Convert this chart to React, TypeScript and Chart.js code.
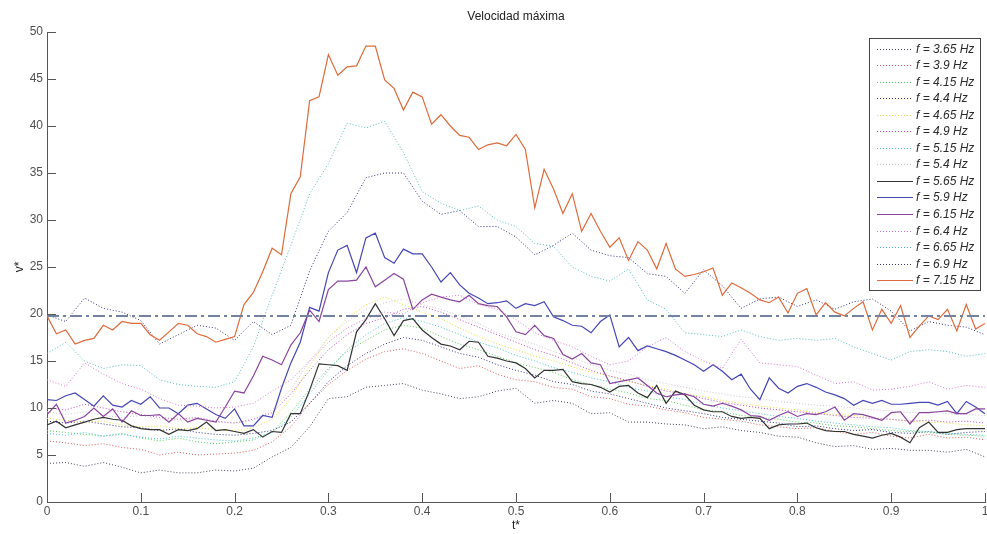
import React, { useEffect, useRef } from "react";
import { Chart, registerables } from "chart.js";

Chart.register(...registerables);

const TITLE = "Velocidad máxima";
const X_LABEL = "t*";
const Y_LABEL = "v*";
const X_TICKS = [0, 0.1, 0.2, 0.3, 0.4, 0.5, 0.6, 0.7, 0.8, 0.9, 1];
const Y_TICKS = [0, 5, 10, 15, 20, 25, 30, 35, 40, 45, 50];
const THRESHOLD = 19.8;

// time grids (fine grid for solid series, coarse grid for dotted series)
const T_FINE = Array.from({ length: 101 }, (_, k) => k / 100);
const T_COARSE = Array.from({ length: 51 }, (_, k) => k / 50);

const LABELS = [
  "f = 3.65 Hz", "f = 3.9 Hz", "f = 4.15 Hz", "f = 4.4 Hz", "f = 4.65 Hz",
  "f = 4.9 Hz", "f = 5.15 Hz", "f = 5.4 Hz", "f = 5.65 Hz", "f = 5.9 Hz",
  "f = 6.15 Hz", "f = 6.4 Hz", "f = 6.65 Hz", "f = 6.9 Hz", "f = 7.15 Hz",
];

// dotted series (t step 0.02)
const F365 = [4.1,4.2,3.8,4.2,3.7,3.1,3.4,3.1,3.1,3.4,3.3,3.6,4.8,5.8,8.0,11.0,11.2,12.2,12.4,12.6,11.9,11.5,11.0,11.2,11.8,12.1,10.5,10.8,10.5,9.4,9.5,8.5,8.5,8.3,8.2,7.8,8.0,7.6,7.4,7.0,6.9,6.3,5.9,6.0,5.6,5.7,5.5,5.5,5.3,5.6,4.8];
const F39 = [6.5,6.3,6.0,6.2,5.8,5.6,5.0,5.3,5.0,5.1,5.2,5.5,6.4,8.0,10.5,12.5,14.0,15.2,16.0,16.3,15.8,15.0,14.2,14.5,13.6,13.0,12.8,12.2,12.0,11.2,11.0,10.4,10.2,9.8,9.5,9.0,8.8,8.6,8.2,8.0,7.8,7.9,7.5,7.2,7.4,7.0,6.8,7.2,6.8,6.9,6.6];
const F415 = [7.6,7.4,7.2,7.0,7.3,6.8,6.5,6.8,6.4,6.2,6.4,6.6,7.5,9.5,12.0,14.2,16.0,17.2,18.3,18.8,18.5,17.6,16.8,16.2,15.5,14.8,14.3,13.8,13.0,12.5,12.0,11.6,11.0,10.8,10.3,9.8,9.6,9.2,9.0,8.8,8.5,8.4,8.1,8.0,7.8,7.6,7.5,7.4,7.2,7.1,7.0];
const F44 = [8.6,8.4,8.6,8.3,8.0,7.9,7.6,7.8,7.4,7.2,7.1,7.3,7.6,8.5,10.5,12.8,14.5,15.8,16.8,17.5,17.2,16.5,15.8,15.4,14.6,14.0,13.5,12.8,12.5,11.8,11.5,11.0,10.5,10.0,9.7,9.4,9.0,8.8,8.6,8.4,8.0,8.1,7.8,7.6,7.7,7.4,7.3,7.5,7.2,7.4,7.5];
const F465 = [8.9,8.7,8.5,8.6,8.2,8.0,8.1,7.8,7.9,7.7,7.6,7.9,8.8,11.0,14.5,17.5,19.5,21.0,21.8,21.0,20.2,19.5,18.5,17.6,16.8,16.2,15.5,15.0,14.4,13.8,13.4,12.8,12.4,12.0,11.5,11.2,10.8,10.5,10.2,10.0,9.8,9.5,9.3,9.2,9.0,8.8,8.6,8.5,8.4,8.2,8.1];
const F49 = [10.0,9.8,10.4,10.0,9.6,9.3,9.0,8.8,9.0,8.6,8.4,8.8,9.5,11.5,14.0,16.2,17.8,19.0,19.6,20.5,20.8,20.2,19.4,18.6,17.8,17.0,16.2,15.6,14.8,14.0,13.4,12.9,12.3,11.8,11.5,11.0,10.6,10.3,10.0,9.8,9.6,9.4,9.2,9.0,8.9,8.8,8.6,8.7,8.5,8.6,8.4];
const F515 = [7.3,7.1,7.4,7.0,7.2,6.9,6.7,7.0,6.8,6.6,6.5,6.8,7.4,9.0,11.5,14.0,16.2,17.8,19.0,19.6,19.2,18.6,17.8,17.0,16.4,15.6,15.0,14.3,13.8,13.2,12.8,12.2,11.8,11.2,10.9,10.4,10.0,9.7,9.4,9.1,8.9,8.6,8.4,8.2,8.0,7.9,7.6,7.5,7.3,7.2,7.1];
const F54 = [9.6,9.3,9.6,9.2,9.0,9.2,8.8,8.6,8.9,8.5,8.4,8.7,9.8,12.0,15.0,17.5,19.2,20.5,21.2,21.6,21.0,20.5,19.8,19.0,18.0,17.4,16.8,16.0,15.4,14.6,14.0,13.6,13.0,12.6,12.2,11.8,11.5,11.2,11.0,10.7,10.5,10.3,10.2,10.0,9.8,9.7,9.5,9.6,9.4,9.3,9.2];
const F64 = [13.0,12.3,14.8,13.6,12.6,12.0,11.0,10.3,10.2,10.0,10.1,10.5,11.8,13.0,15.0,17.0,18.5,19.5,20.2,20.0,21.2,21.8,22.0,21.0,20.5,19.4,18.0,17.2,16.5,15.5,14.6,15.0,16.5,17.5,16.0,15.0,14.2,17.3,14.8,14.6,14.4,13.5,12.6,12.8,11.9,12.0,12.3,12.8,12.0,12.4,12.2];
const F665 = [15.8,17.0,15.0,14.2,14.6,14.5,13.0,12.5,12.3,12.2,12.8,16.5,22.0,27.3,32.8,36.0,40.3,39.8,40.5,37.2,33.0,31.8,31.0,31.5,30.0,29.3,27.5,27.2,25.0,24.0,23.5,24.8,21.5,20.5,18.0,17.8,17.6,18.3,17.6,17.2,17.4,17.2,17.4,16.5,15.8,15.1,16.0,16.2,16.0,15.5,15.8];
const F69 = [19.9,19.2,21.7,20.6,20.2,19.3,16.8,17.8,18.8,18.5,17.2,19.2,17.8,18.8,24.6,28.8,30.8,34.5,35.0,35.0,32.0,30.6,31.0,29.3,29.3,28.2,26.3,27.3,28.6,26.8,26.2,26.0,24.3,24.0,22.2,24.7,23.0,20.6,21.6,21.8,20.8,21.5,20.5,21.3,21.6,20.3,18.2,19.2,18.8,18.6,17.8];

// solid series (t step 0.01)
const F565 = [8.2,8.6,7.9,8.2,8.5,8.8,9.0,8.8,8.7,8.1,7.8,7.7,7.7,7.2,7.7,7.6,7.8,8.5,7.6,7.7,7.5,7.3,7.7,6.9,7.5,7.4,9.4,9.4,11.9,14.7,14.6,14.5,14.0,18.1,19.4,21.1,19.5,17.7,19.3,19.5,18.3,17.5,16.8,16.6,16.2,17.1,17.0,15.5,15.3,15.0,14.8,14.2,13.2,14.0,14.0,14.1,12.8,12.6,12.5,12.2,11.7,12.3,12.4,11.6,11.1,12.4,10.5,11.8,11.4,10.3,9.8,9.6,9.6,9.1,8.9,9.0,8.9,7.8,8.2,8.3,8.3,8.4,7.9,7.6,7.5,7.5,7.2,7.0,6.8,7.1,7.3,6.9,6.3,7.9,8.5,7.4,7.4,7.7,7.8,7.8,7.8];
const F59 = [10.9,10.8,11.3,11.6,10.9,10.2,11.3,10.3,10.1,10.8,10.4,11.2,10.0,10.0,9.4,10.3,10.5,9.9,9.3,8.9,9.9,8.1,8.1,9.2,9.0,12.1,14.8,17.0,20.7,20.3,24.4,26.8,27.3,24.4,28.1,28.6,26.0,25.4,26.9,26.4,26.4,25.0,23.4,24.4,23.1,22.2,21.7,21.1,21.2,21.4,20.6,21.1,20.9,21.3,19.7,19.3,18.8,18.7,18.0,19.2,19.9,16.5,17.5,16.1,16.6,16.3,16.0,15.6,15.1,14.6,13.9,14.6,13.9,13.0,13.6,12.0,10.9,13.2,12.1,11.6,12.3,12.6,12.2,11.7,11.4,11.0,10.3,10.8,10.5,10.8,10.4,10.4,10.5,10.6,10.6,10.3,10.7,9.4,10.7,10.1,9.4];
const F615 = [9.3,10.4,8.4,8.7,9.1,10.0,9.1,9.9,8.5,9.7,9.2,9.2,9.3,8.5,9.4,8.5,8.9,8.7,8.5,10.1,11.8,11.6,13.4,15.5,15.1,14.6,16.7,18.0,20.4,19.2,22.6,23.5,23.5,23.6,25.0,22.9,23.6,24.3,23.7,20.5,21.5,22.1,21.8,21.5,21.3,22.0,21.1,20.9,20.8,19.7,18.1,17.8,18.8,17.7,17.4,15.7,15.2,15.8,14.8,14.6,12.6,12.8,13.0,13.2,12.4,11.6,11.2,11.4,11.5,11.2,10.4,10.2,10.5,10.2,9.8,9.2,9.1,8.7,9.2,9.6,9.1,9.4,9.3,9.6,10.1,8.7,9.4,9.3,9.0,8.7,9.5,9.6,8.3,9.5,9.5,9.6,9.7,9.4,9.4,9.9,9.9];
const F715 = [19.8,17.9,18.3,16.8,17.2,17.4,18.8,18.3,19.2,19.0,19.0,17.8,17.2,18.1,19.0,18.8,17.9,17.6,17.0,17.3,17.6,21.0,22.3,24.5,27.0,26.3,32.8,34.6,42.7,43.1,47.6,45.4,46.3,46.4,48.5,48.5,44.9,44.0,41.7,43.6,43.1,40.2,41.2,40.0,39.0,38.8,37.5,38.0,38.2,37.9,39.1,37.5,31.3,35.4,33.3,30.7,32.8,28.8,30.7,28.8,27.1,28.1,25.7,27.7,26.8,24.8,27.5,24.8,24.0,24.2,24.5,24.9,22.0,23.3,22.8,22.2,21.5,21.2,21.8,20.1,22.2,22.7,19.9,21.2,20.2,19.8,20.6,21.3,18.3,20.5,19.0,20.9,17.5,18.7,19.8,19.4,20.5,18.2,21.0,18.4,19.0];

const SERIES = [F365, F39, F415, F44, F465, F49, F515, F54, F565, F59, F615, F64, F665, F69, F715];
const COLORS = [
  "#45455a", "#e35a5a", "#5ccf5c", "#33338f", "#e6e03a",
  "#c24cc2", "#4cc6cf", "#d2c4cc", "#333333", "#4545b5",
  "#8a459e", "#dc78d2", "#55bcbf", "#34347f", "#df6a3a",
];
const SOLID = [false, false, false, false, false, false, false, false, true, true, true, false, false, false, true];

const FONT = "'Liberation Sans', Arial, sans-serif";

const overlay = {
  id: "overlay",
  afterDraw(chart: any) {
    const { ctx, chartArea, scales } = chart;
    const { left, right, top, bottom } = chartArea;
    const xs = scales.x;
    const ys = scales.y;
    ctx.save();
    // inward ticks
    ctx.strokeStyle = "#555";
    ctx.lineWidth = 1;
    ctx.setLineDash([]);
    ctx.beginPath();
    X_TICKS.forEach((v) => {
      const px = Math.round(xs.getPixelForValue(v)) + 0.5;
      ctx.moveTo(px, bottom);
      ctx.lineTo(px, bottom - 9);
    });
    Y_TICKS.forEach((v) => {
      const py = Math.round(ys.getPixelForValue(v)) + 0.5;
      ctx.moveTo(left, py);
      ctx.lineTo(left + 9, py);
    });
    ctx.stroke();

    // title and axis labels
    ctx.fillStyle = "#222";
    ctx.font = `12px ${FONT}`;
    ctx.textAlign = "center";
    ctx.textBaseline = "middle";
    ctx.fillText(TITLE, (left + right) / 2, 17);
    ctx.fillText(X_LABEL, (left + right) / 2, 526);
    ctx.save();
    ctx.translate(20, (top + bottom) / 2);
    ctx.rotate(-Math.PI / 2);
    ctx.fillText(Y_LABEL, 0, 0);
    ctx.restore();

    // legend box
    const bx = 869.5, by = 38.5, bw = 111, bh = 252;
    ctx.fillStyle = "#fff";
    ctx.fillRect(bx, by, bw, bh);
    ctx.strokeStyle = "#444";
    ctx.lineWidth = 1;
    ctx.strokeRect(bx, by, bw, bh);
    ctx.font = `italic 12px ${FONT}`;
    ctx.textAlign = "left";
    ctx.textBaseline = "middle";
    LABELS.forEach((lab, i) => {
      const yy = Math.round(48.5 + 16.55 * i) + 0.5;
      ctx.strokeStyle = COLORS[i];
      ctx.lineWidth = SOLID[i] ? 1.2 : 1;
      ctx.setLineDash(SOLID[i] ? [] : [1, 2]);
      ctx.beginPath();
      ctx.moveTo(877, yy);
      ctx.lineTo(913, yy);
      ctx.stroke();
      ctx.setLineDash([]);
      ctx.fillStyle = "#2a2a2a";
      ctx.fillText(lab, 916, yy);
    });
    ctx.restore();
  },
};

export default function App() {
  const ref = useRef<HTMLCanvasElement | null>(null);
  useEffect(() => {
    document.body.style.margin = "0";
    const canvas = ref.current;
    if (!canvas) return;
    const datasets: any[] = SERIES.map((vals, i) => {
      const grid = vals.length === T_FINE.length ? T_FINE : T_COARSE;
      return {
        label: LABELS[i],
        data: vals.map((v, k) => ({ x: grid[k], y: v })),
        borderColor: COLORS[i],
        backgroundColor: COLORS[i],
        borderWidth: SOLID[i] ? 1.2 : 1,
        borderDash: SOLID[i] ? [] : [1, 2],
        pointRadius: 0,
        tension: 0,
        fill: false,
        order: 30 - i,
      };
    });
    datasets.push({
      label: "threshold",
      data: [{ x: 0, y: THRESHOLD }, { x: 1, y: THRESHOLD }],
      borderColor: "#7282a0",
      borderWidth: 2,
      borderDash: [12, 4, 3, 4],
      pointRadius: 0,
      fill: false,
      order: 0,
    });
    const chart = new Chart(canvas, {
      type: "line",
      data: { datasets },
      options: {
        animation: false,
        responsive: false,
        devicePixelRatio: 1,
        layout: { padding: { top: 32, right: 2, left: 0, bottom: 0 } },
        plugins: {
          legend: { display: false },
          title: { display: false },
          tooltip: { enabled: false },
        },
        scales: {
          x: {
            type: "linear",
            min: 0,
            max: 1,
            afterBuildTicks: (s: any) => {
              s.ticks = X_TICKS.map((v) => ({ value: v }));
            },
            afterFit: (s: any) => {
              s.height = 32;
              s.paddingLeft = 0;
              s.paddingRight = 0;
            },
            ticks: {
              color: "#505050",
              font: { family: FONT, size: 12 },
              padding: 2,
              maxRotation: 0,
              autoSkip: false,
              callback: (v: any) => String(parseFloat(Number(v).toFixed(1))),
            },
            grid: { display: false, drawTicks: false },
            border: { display: true, color: "#555", width: 1 },
          },
          y: {
            type: "linear",
            min: 0,
            max: 50,
            afterBuildTicks: (s: any) => {
              s.ticks = Y_TICKS.map((v) => ({ value: v }));
            },
            afterFit: (s: any) => {
              s.width = 47;
            },
            ticks: {
              color: "#505050",
              font: { family: FONT, size: 12 },
              padding: 4,
              autoSkip: false,
            },
            grid: { display: false, drawTicks: false },
            border: { display: true, color: "#555", width: 1 },
          },
        },
      },
      plugins: [overlay],
    });
    return () => chart.destroy();
  }, []);
  return (
    <div style={{ width: 987, height: 534, background: "#fff" }}>
      <canvas ref={ref} width={987} height={534} />
    </div>
  );
}
